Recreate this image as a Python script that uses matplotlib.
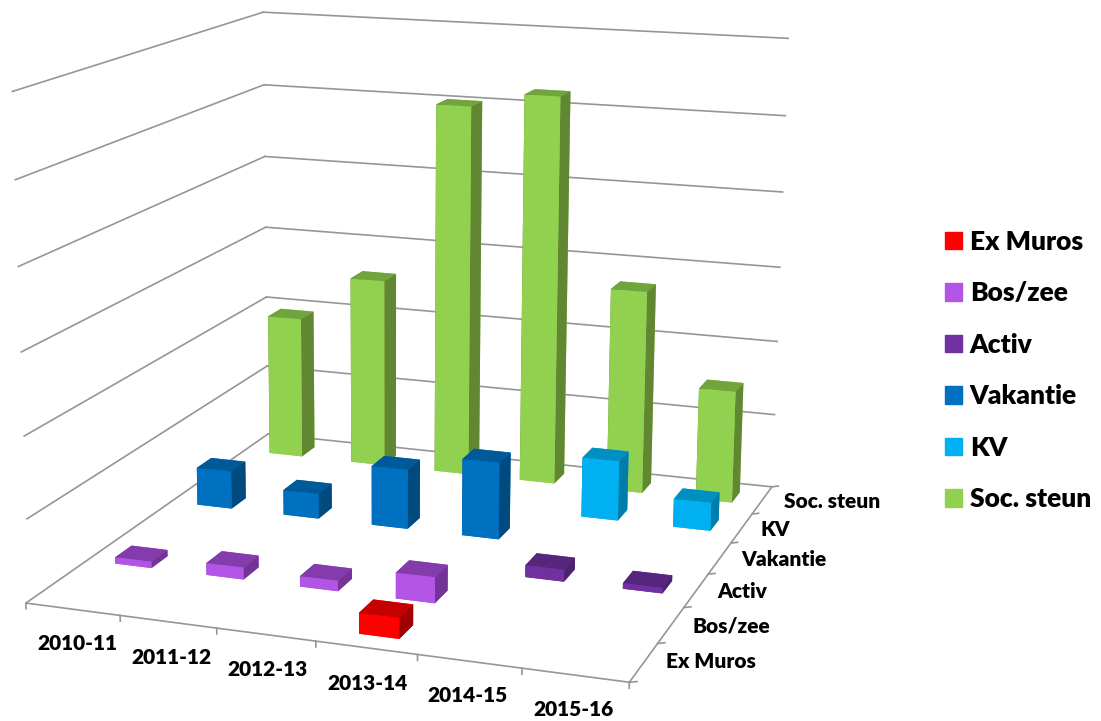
#!/usr/bin/env python3
"""Excel style 3D column chart, one row per programme."""
import matplotlib
matplotlib.use("Agg")
import matplotlib.pyplot as plt
from matplotlib.patches import Patch

plt.rcParams["font.family"] = ["Lato", "DejaVu Sans"]

W, H = 1101, 721

years = ["2010-11", "2011-12", "2012-13", "2013-14", "2014-15", "2015-16"]
series = ["Ex Muros", "Bos/zee", "Activ", "Vakantie", "KV", "Soc. steun"]

ex_muros = [0, 0, 0, 0.25, 0, 0]
bos_zee = [0.08, 0.15, 0.13, 0.32, 0, 0]
activ = [0, 0, 0, 0, 0.15, 0.07]
vakantie = [0.50, 0.33, 0.78, 1.0, 0, 0]
kv = [0, 0, 0, 0, 0.79, 0.37]
soc_steun = [1.95, 2.58, 5.02, 5.22, 2.73, 1.5]
values = [ex_muros, bos_zee, activ, vakantie, kv, soc_steun]

# front, top, side
front_colors = ["#FF0000", "#B254E6", "#7030A0", "#0070C0", "#00B0F0", "#92D050"]
top_colors = ["#C40000", "#843CAC", "#56257C", "#005A99", "#0090C0", "#70A53E"]
side_colors = ["#A00000", "#743396", "#4C2270", "#004A80", "#007CA8", "#628732"]

z_max = 6
bar_w = 0.40
bar_d = 0.38
bar_shift = 0.01
grid_color = "#969696"

fig = plt.figure(figsize=(W / 100, H / 100), dpi=100)
# fitted against the wall corners of the picture, axes overhang the figure
ax = fig.add_axes([-0.0569, -0.1026, 0.8619, 1.3162], projection="3d")
ax.set_axis_off()
ax.patch.set_alpha(0)
ax.computed_zorder = False
ax.set_xlim(0, 6)
ax.set_ylim(0, 6)
ax.set_zlim(0, z_max)
ax.view_init(elev=13.8271, azim=-70.7827, roll=-0.1898)
ax.set_proj_type("persp", focal_length=0.5147)
ax.set_box_aspect((0.9636, 0.9747, 0.7971))

n_x = len(years)
n_y = len(series)
line_kw = dict(color=grid_color, lw=1.2, zorder=1)

# walls
for z in range(1, z_max + 1):
    ax.plot([0, 0], [0.08, n_y], [z, z], **line_kw)
    ax.plot([0, n_x], [n_y, n_y], [z, z], **line_kw)

# floor edges and ticks
ax.plot([0, 0], [0, n_y], [0, 0], **line_kw)
ax.plot([0, n_x], [n_y, n_y], [0, 0], **line_kw)
ax.plot([0, n_x], [0, 0], [0, 0], **line_kw)
ax.plot([n_x, n_x], [0, n_y], [0, 0], **line_kw)
for i in range(n_x + 1):
    ax.plot([i, i], [0, 0], [0, -0.07], **line_kw)
for j in range(n_y + 1):
    ax.plot([n_x, n_x + 0.07], [j, j], [0, 0.02], **line_kw)

# paint back rows first
order = 2
for row in range(n_y - 1, -1, -1):
    for col in range(n_x):
        val = values[row][col]
        if val <= 0:
            continue
        f, t, s = front_colors[row], top_colors[row], side_colors[row]
        # faces are -Z, +Z, -Y, +Y, -X, +X
        ax.bar3d([col + 0.5 + bar_shift - bar_w / 2], [row + 0.5 - bar_d / 2], [0],
                 bar_w, bar_d, val, color=[f, t, f, f, s, s],
                 shade=False, linewidth=0, zorder=order)
        order += 1

# axis labels are placed by hand like Excel does
year_xy = [(77, 643), (171, 657), (268, 669), (367, 683), (468, 696), (574, 710)]
series_xy = [(711, 662), (731, 626), (742, 592), (784, 559), (775, 529), (832, 502)]
for label, (x, y) in zip(years, year_xy):
    fig.text(x / W, 1 - y / H, label, ha="center", va="center",
             fontsize=15, fontweight="heavy")
for label, (x, y) in zip(series, series_xy):
    fig.text(x / W, 1 - y / H, label, ha="center", va="center",
             fontsize=15, fontweight="heavy")

handles = [Patch(color=c, label=s) for c, s in zip(front_colors, series)]
fig.legend(handles=handles, loc="upper left", bbox_to_anchor=(945 / W, 1 - 230 / H),
           frameon=False, prop=dict(size=19, weight="heavy"), ncol=1,
           handlelength=0.64, handleheight=0.64, handletextpad=0.3,
           labelspacing=1.04, borderpad=0, borderaxespad=0)

fig.savefig("out.png", dpi=100)
